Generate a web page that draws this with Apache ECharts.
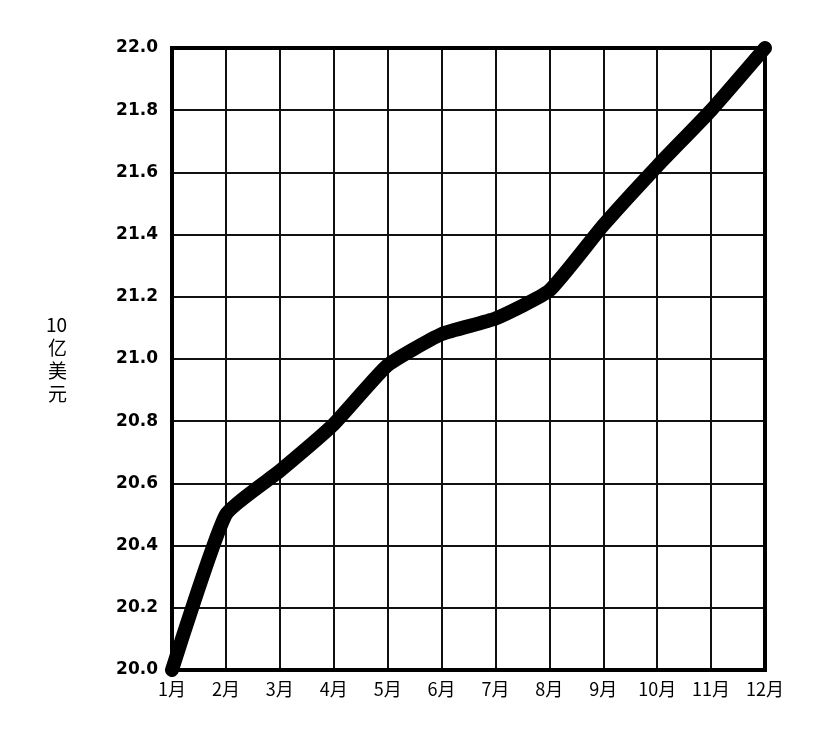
<!DOCTYPE html>
<html><head><meta charset="utf-8">
<script src="https://cdn.jsdelivr.net/npm/echarts@6/dist/echarts.min.js"></script>
<style>html,body{margin:0;background:#fff}#c{width:830px;height:752px}</style>
</head><body><div id="c"></div>
<script>
const categories=['1月','2月','3月','4月','5月','6月','7月','8月','9月','10月','11月','12月'];
const values=[20.0,20.5,20.64,20.79,20.98,21.08,21.13,21.22,21.43,21.62,21.8,22.0];
const yName='10\n亿\n美\n元';
const chart=echarts.init(document.getElementById('c'));
chart.setOption({
  animation:false,
  grid:{left:172,right:65,top:48,bottom:82,containLabel:false,outerBoundsMode:'none'},
  xAxis:{type:'category',data:categories,boundaryGap:false,
    axisLine:{lineStyle:{color:'#000',width:3}},axisTick:{show:false},
    axisLabel:{color:'#000',fontSize:18,fontFamily:'Noto Sans CJK SC',margin:10},
    splitLine:{show:true,lineStyle:{color:'#111',width:2}}},
  yAxis:{type:'value',min:20,max:22,interval:0.2,name:yName,nameLocation:'middle',nameGap:105,
    nameRotate:0,nameTextStyle:{color:'#000',fontSize:19,fontFamily:'Noto Sans CJK SC',lineHeight:23},
    axisLine:{show:true,lineStyle:{color:'#000',width:3}},axisTick:{show:false},
    axisLabel:{color:'#000',fontSize:17,fontWeight:'bold',fontFamily:'DejaVu Sans',margin:14,formatter:v=>v.toFixed(1)},
    splitLine:{lineStyle:{color:'#111',width:2}}},
  series:[{type:'line',data:values,smooth:0.15,symbol:'none',
    lineStyle:{color:'#000',width:14,cap:'round',join:'round'}}]
});
chart.setOption({graphic:[{type:'rect',shape:{x:172,y:48,width:593,height:622},style:{fill:'none',stroke:'#000',lineWidth:4}}]});
</script></body></html>
